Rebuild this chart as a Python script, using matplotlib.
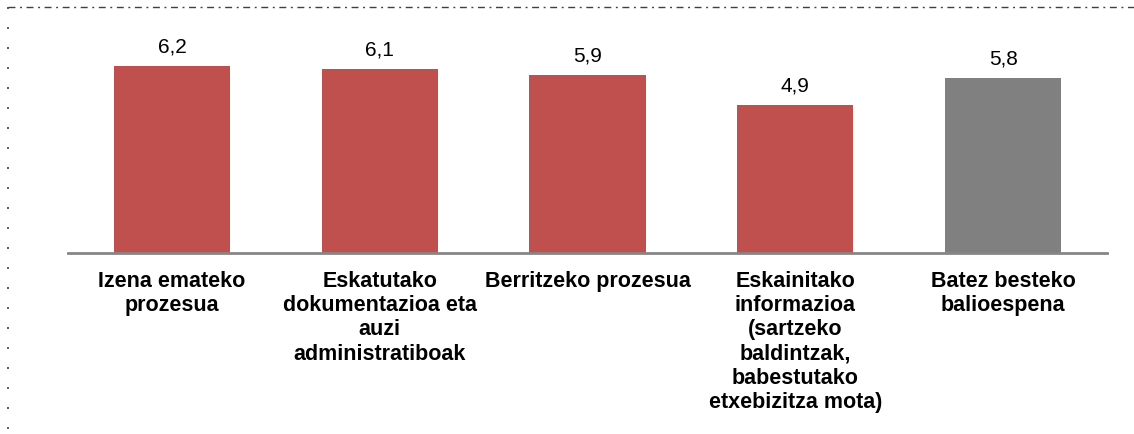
import matplotlib.pyplot as plt
from matplotlib.lines import Line2D

# -------------------------------
# Data
# -------------------------------
categories = [
    "Izena emateko\nprozesua",
    "Eskatutako\ndokumentazioa eta\nauzi\nadministratiboak",
    "Berritzeko prozesua",
    "Eskainitako\ninformazioa\n(sartzeko\nbaldintzak,\nbabestutako\netxebizitza mota)",
    "Batez besteko\nbalioespena",
]
values = [6.2, 6.1, 5.9, 4.9, 5.8]
value_labels = ["6,2", "6,1", "5,9", "4,9", "5,8"]
colors = ["#C0504D", "#C0504D", "#C0504D", "#C0504D", "#808080"]

plt.rcParams["font.family"] = ["Liberation Sans", "DejaVu Sans"]

# -------------------------------
# Figure
# -------------------------------
W, H = 1134, 434
fig = plt.figure(figsize=(W / 100, H / 100), dpi=100)
x0, x1, yb, yt = 68, 1107, 253, 42
ax = fig.add_axes([x0 / W, 1 - yb / H, (x1 - x0) / W, (yb - yt) / H])

pos = range(len(values))
ax.bar(pos, values, width=0.56, color=colors)
ax.set_xlim(-0.5, len(values) - 0.5)
ax.set_ylim(0, 7)

for x, v, lab in zip(pos, values, value_labels):
    ax.annotate(lab, (x, v), xytext=(0, 7), textcoords="offset points",
                ha="center", va="bottom", fontsize=15)

ax.set_xticks(list(pos))
ax.set_xticklabels(categories, fontsize=15.5, fontweight="bold", va="top",
                   linespacing=1.2)
ax.tick_params(axis="x", length=0, pad=13)
ax.set_yticks([])
for s in ["top", "right", "left"]:
    ax.spines[s].set_visible(False)
ax.spines["bottom"].set_color("#868686")
ax.spines["bottom"].set_linewidth(2)

# dashed frame on top and left
fig.add_artist(Line2D([8 / W, 1.0], [1 - 6.5 / H, 1 - 6.5 / H], transform=fig.transFigure,
                      color="#404040", lw=1, linestyle=(0, (5, 3.3, 1.4, 3.3))))
fig.add_artist(Line2D([8 / W, 8 / W], [1 - 6.5 / H, 0], transform=fig.transFigure,
                      color="#404040", lw=1.2, linestyle=(0, (1.2, 10.8))))

fig.savefig("out.png", dpi=100)
